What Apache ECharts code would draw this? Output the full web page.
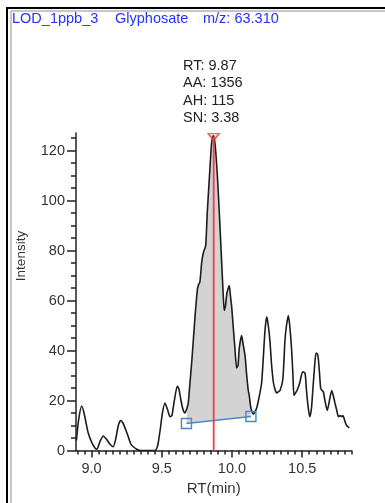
<!DOCTYPE html>
<html>
<head>
<meta charset="utf-8">
<style>
html,body{margin:0;padding:0;background:#fff;}
#chart{width:385px;height:503px;}
</style>
<script src="https://cdn.jsdelivr.net/npm/echarts@6/dist/echarts.min.js"></script>
</head>
<body>
<div id="chart"></div>
<script>
// ---- data ----
const titleParts = ['LOD_1ppb_3', 'Glyphosate', 'm/z: 63.310'];
const rt = [8.893,8.908,8.930,8.947,8.977,9.004,9.025,9.039,9.060,9.084,9.107,9.132,9.155,9.174,9.191,9.208,9.224,9.246,9.262,9.281,9.298,9.322,9.345,9.452,9.466,9.475,9.491,9.505,9.523,9.541,9.559,9.573,9.587,9.611,9.623,9.637,9.651,9.665,9.680,9.689,9.701,9.713,9.726,9.737,9.753,9.760,9.772,9.784,9.796,9.813,9.824,9.838,9.855,9.867,9.879,9.895,9.910,9.927,9.938,9.945,9.954,9.964,9.981,9.989,9.998,10.011,10.021,10.033,10.043,10.052,10.069,10.078,10.093,10.105,10.116,10.123,10.133,10.142,10.152,10.164,10.176,10.192,10.211,10.224,10.235,10.247,10.256,10.270,10.281,10.294,10.306,10.318,10.331,10.342,10.361,10.370,10.377,10.388,10.401,10.411,10.425,10.434,10.441,10.452,10.463,10.482,10.503,10.520,10.529,10.537,10.548,10.555,10.566,10.574,10.587,10.598,10.609,10.614,10.623,10.631,10.641,10.650,10.665,10.678,10.694,10.710,10.721,10.733,10.746,10.757,10.769,10.781,10.790,10.797,10.808,10.816,10.826,10.835];
const intensity = [4,12,17.8,15,7,3,1,0.5,3.5,5.8,4.5,2.5,1.5,5,10,12,11,8,5.5,2.5,1.5,0.5,0,0,1,3,9,15,19,16.5,13.5,14,19,25.8,24.5,20,16.5,15,17,19,27,35,45,53.5,64,66,67.5,75,79,82,95,108,123,126,123,111,95,75,62,56,58,63,66,62,57.5,48,41,33,34,41,46,43,38,30,24,22,17.5,15.5,14.5,15.5,17,21,27,38,48,53.5,51,44,35,27.5,24.5,23,23.5,24,28,36,44,50,54,50,40,30,22,23,24,27,31.5,31,25,20,15,13.5,17,23,33,39,38.5,37,31,25,24,23.5,19,16,20,24,22,19,16,13.5,14,13.5,14,13,11,10,9.5,9];
const baseRT = [9.676, 10.135];
const baseInt = [10.8, 13.6];
const peakRT = 9.87;
const peakTop = 125.4;
const peakInfo = ['RT: 9.87', 'AA: 1356', 'AH: 115', 'SN: 3.38'];
const xMajor = [9.0, 9.5, 10.0, 10.5];
const yMajor = [0, 20, 40, 60, 80, 100, 120];
const xRange = [8.89, 10.85];
const yRange = [0, 127];

// minor tick positions (axis structure only)
const xMinor = [];
for (let k = 178; k <= 217; k++) xMinor.push(+(k * 0.05).toFixed(2));
const yMinor = [];
for (let k = 0; k <= 25; k++) yMinor.push(k * 5);

const FONT = 'Liberation Sans, Arial, sans-serif';
const chart = echarts.init(document.getElementById('chart'), null, {renderer: 'canvas'});

const curveData = rt.map((t, i) => [t, intensity[i]]);

chart.setOption({
  animation: false,
  backgroundColor: '#fff',
  grid: {left: 76, right: 33.6, top: 133, bottom: 52.5, outerBoundsMode: 'none'},
  xAxis: [
    {
      type: 'value', min: xRange[0], max: xRange[1], position: 'bottom',
      splitLine: {show: false},
      axisLine: {show: true, lineStyle: {color: '#222', width: 1.5}},
      axisTick: {show: true, customValues: xMajor, length: 7, lineStyle: {color: '#222', width: 1.5}},
      axisLabel: {customValues: xMajor, margin: 11, fontSize: 14.5, color: '#333', fontFamily: FONT,
        formatter: v => v.toFixed(1)},
      name: 'RT(min)', nameLocation: 'middle', nameGap: 28,
      nameTextStyle: {fontSize: 15, color: '#333', fontFamily: FONT}
    },
    {
      type: 'value', min: xRange[0], max: xRange[1], position: 'bottom',
      splitLine: {show: false},
      axisLine: {show: false},
      axisTick: {show: true, customValues: xMinor, length: 4, lineStyle: {color: '#222', width: 1.5}},
      axisLabel: {show: false}
    }
  ],
  yAxis: [
    {
      type: 'value', min: yRange[0], max: yRange[1], position: 'left',
      splitLine: {show: false},
      axisLine: {show: true, lineStyle: {color: '#222', width: 1.5}},
      axisTick: {show: true, customValues: yMajor, length: 9, lineStyle: {color: '#222', width: 1.5}},
      axisLabel: {customValues: yMajor, margin: 11, fontSize: 14.5, color: '#333', fontFamily: FONT}
    },
    {
      type: 'value', min: yRange[0], max: yRange[1], position: 'left',
      splitLine: {show: false},
      axisLine: {show: false},
      axisTick: {show: true, customValues: yMinor, length: 5, lineStyle: {color: '#222', width: 1.5}},
      axisLabel: {show: false}
    }
  ],
  series: [
    {
      type: 'custom', silent: true, z: 1,
      xAxisIndex: 0, yAxisIndex: 0,
      data: [[baseRT[0], baseInt[0]]],
      renderItem: (params, api) => {
        const pts = [api.coord([baseRT[0], baseInt[0]])];
        for (let i = 0; i < rt.length; i++) {
          if (rt[i] >= baseRT[0] && rt[i] <= baseRT[1]) pts.push(api.coord([rt[i], intensity[i]]));
        }
        pts.push(api.coord([baseRT[1], baseInt[1]]));
        return {type: 'polygon', shape: {points: pts}, style: {fill: '#d3d3d3'}};
      }
    },
    {
      type: 'line', data: curveData, z: 3, smooth: 0.2,
      showSymbol: false, silent: true,
      lineStyle: {color: '#1c1c1c', width: 1.6}
    },
    {
      type: 'line', z: 4, silent: true,
      data: [[baseRT[0], baseInt[0]], [baseRT[1], baseInt[1]]],
      symbol: 'rect', symbolSize: 10,
      lineStyle: {color: '#4a86c8', width: 1.5},
      itemStyle: {color: 'rgba(0,0,0,0)', borderColor: '#4a86c8', borderWidth: 1.4}
    },
    {
      type: 'line', z: 5, silent: true,
      data: [[peakRT, 0], [peakRT, peakTop]],
      showSymbol: false,
      lineStyle: {color: '#f23e3e', width: 1.8}
    },
    {
      type: 'scatter', z: 6, silent: true,
      data: [[peakRT, peakTop]],
      symbol: 'triangle', symbolRotate: 180, symbolSize: [11, 7],
      itemStyle: {color: 'rgba(255,80,80,0.25)', borderColor: '#f03a3a', borderWidth: 1.5}
    }
  ],
  graphic: [
    {type: 'line', shape: {x1: 7, y1: 8, x2: 385, y2: 8}, style: {stroke: '#000', lineWidth: 2}, silent: true},
    {type: 'line', shape: {x1: 7, y1: 7, x2: 7, y2: 503}, style: {stroke: '#000', lineWidth: 2}, silent: true},
    {type: 'line', shape: {x1: 11, y1: 11, x2: 385, y2: 11}, style: {stroke: '#b4b4b4', lineWidth: 1.5}, silent: true},
    {type: 'line', shape: {x1: 11, y1: 11, x2: 11, y2: 503}, style: {stroke: '#b4b4b4', lineWidth: 1.5}, silent: true},
    {type: 'text', x: 12, y: 18.5, style: {text: titleParts[0], fill: '#2233ff', font: '14.5px ' + FONT, textVerticalAlign: 'middle'}},
    {type: 'text', x: 115, y: 18.5, style: {text: titleParts[1], fill: '#2233ff', font: '14.5px ' + FONT, textVerticalAlign: 'middle'}},
    {type: 'text', x: 203, y: 18.5, style: {text: titleParts[2], fill: '#2233ff', font: '14.5px ' + FONT, textVerticalAlign: 'middle'}},
    {type: 'text', x: 183, y: 57, style: {text: peakInfo.join('\n'), fill: '#222', font: '14.5px ' + FONT, lineHeight: 17.5, textVerticalAlign: 'top'}},
    {type: 'text', x: 21, y: 256, rotation: Math.PI / 2, style: {text: 'Intensity', fill: '#333', font: '13.5px ' + FONT, textAlign: 'center', textVerticalAlign: 'middle'}}
  ]
});
</script>
</body>
</html>
